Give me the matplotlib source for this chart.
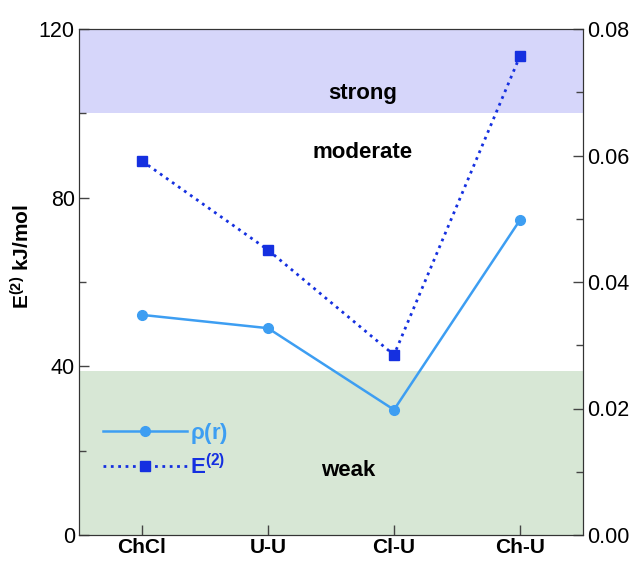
import matplotlib
matplotlib.use("Agg")
import matplotlib.pyplot as plt
from matplotlib.ticker import MultipleLocator

plt.rcParams['font.family'] = ['Liberation Sans', 'DejaVu Sans']
plt.rcParams['mathtext.fontset'] = 'custom'
plt.rcParams['mathtext.rm'] = 'Liberation Sans:bold'
plt.rcParams['mathtext.bf'] = 'Liberation Sans:bold'
plt.rcParams['mathtext.default'] = 'bf'

categories = ["ChCl", "U-U", "Cl-U", "Ch-U"]
e2_values = [88.7, 67.6, 42.7, 113.6]
rho_values = [0.0348, 0.0327, 0.0198, 0.0498]
left_ticks = [0, 40, 80, 120]
right_ticks = [0.00, 0.02, 0.04, 0.06, 0.08]
right_labels = ["0.00", "0.02", "0.04", "0.06", "0.08"]

fig = plt.figure(figsize=(6.38, 5.62), dpi=100)
ax = fig.add_axes([79/638, 1-535/562, 504/638, 506/562])
ax2 = ax.twinx()

x = list(range(len(categories)))
ax.set_xlim(-0.5, 3.5)
ax.set_ylim(0, 120)
ax2.set_ylim(0, 0.08)

ax.axhspan(100, 120, color='#d6d6fa', zorder=0, lw=0)
ax.axhspan(0, 39, color='#d7e7d5', zorder=0, lw=0)

ax.text(1.75, 104.8, "strong", ha='center', va='center', fontsize=16, fontweight='bold')
ax.text(1.75, 90.6, "moderate", ha='center', va='center', fontsize=16, fontweight='bold')
ax.text(1.64, 15.2, "weak", ha='center', va='center', fontsize=16, fontweight='bold')

rho_c = '#3d9ef2'
e2_c = '#1530e0'
l2, = ax2.plot(x, rho_values, '-o', color=rho_c, lw=1.8, ms=7, zorder=3)
l1, = ax.plot(x, e2_values, ':s', color=e2_c, lw=2.0, ms=7, zorder=3)

ax.set_xticks(x)
ax.set_xticklabels(categories, fontsize=15, fontweight='bold')
ax.set_yticks(left_ticks)
ax.set_yticklabels([str(t) for t in left_ticks], fontsize=15.5)
ax.yaxis.set_minor_locator(MultipleLocator(20))
ax2.set_yticks(right_ticks)
ax2.set_yticklabels(right_labels, fontsize=15.5)
ax2.yaxis.set_minor_locator(MultipleLocator(0.01))
for a in (ax, ax2):
    a.tick_params(direction='in', length=7, width=1, which='major', color='#444444')
    a.tick_params(direction='in', length=5, width=1, which='minor', color='#444444')
    for s in a.spines.values():
        s.set_color('#333333')
ax.tick_params(axis='x', pad=2)
ax.tick_params(axis='y', pad=3)
ax2.tick_params(axis='y', pad=3)
ax.set_ylabel(r'E$^{(2)}$ kJ/mol', fontsize=15, fontweight='bold')
ax.yaxis.set_label_coords(-0.09, 0.55)

ax2.set_zorder(1)
ax.set_zorder(0)
ax2.patch.set_visible(False)

leg = ax2.legend([l2, l1], [r'$\rho$(r)', r'E$^{(2)}$'], loc='center left',
                 bbox_to_anchor=(0.0476, 0.168), frameon=False, handlelength=3.8,
                 fontsize=16, labelcolor=[rho_c, e2_c], handletextpad=0.1,
                 borderaxespad=0, borderpad=0, labelspacing=0.35)
for t in leg.get_texts():
    t.set_fontweight('bold')

fig.savefig('out.png', dpi=100)
